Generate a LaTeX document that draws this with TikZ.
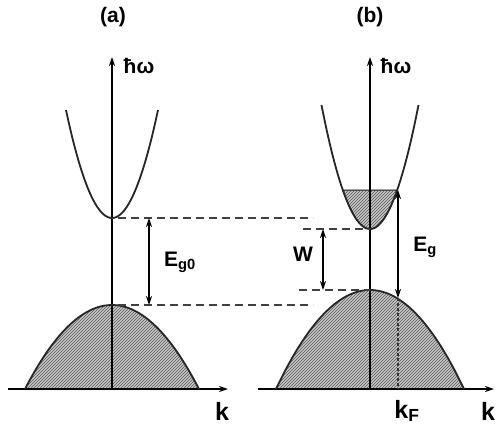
\documentclass[tikz,border=0pt]{standalone}
\usepackage{fontspec}
\setmainfont{Liberation Sans}
\usetikzlibrary{arrows.meta, patterns}

\begin{document}
\begin{tikzpicture}[x=1pt, y=-1pt,
    band/.style={line width=1.8pt, black!85},
    hatch/.style={fill=gray!45, postaction={pattern=north east lines, pattern color=black!65}},
    axis/.style={line width=1.3pt, -{Stealth[length=9pt, width=6pt]}},
    level/.style={dash pattern=on 8pt off 5pt, line width=1.3pt, black!75},
    kfline/.style={dash pattern=on 3pt off 2pt, line width=1.1pt, black!80},
    gap/.style={line width=1.2pt, {Stealth[length=9pt, width=6pt]}-{Stealth[length=9pt, width=6pt]}},
    lbl/.style={font=\fontsize{21}{25}\selectfont\bfseries, inner sep=0pt},
    klbl/.style={font=\fontsize{25}{28}\selectfont\bfseries, inner sep=0pt}
  ]
  \useasboundingbox (0,0) rectangle (496,434);

  % --- (a) ---
  \node[lbl] (titlea) at (113,17) {(a)};
  \fill[hatch] plot[domain=-87:87, samples=60] ({112+\x},{305+84*(\x/87)^2}) -- cycle;
  \coordinate (oa) at (112,389);
  \coordinate (xla) at (8,389);
  \coordinate (xra) at (228,389);
  \coordinate (topa) at (112,57);
  \draw[axis] (xla) -- (xra);
  \draw[axis] (oa) -- (topa);
  \node[lbl] (hwa) at (139,66) {ħω};
  \node[klbl] (ka) at (222,411) {k};
  \draw[band] plot[domain=-87:87, samples=60] ({112+\x},{305+84*(\x/87)^2});
  \draw[band] plot[domain=-46:46, samples=60] ({112+\x},{218-108*(\x/46)^2});

  % niveaux
  \coordinate (cba) at (118,218);
  \coordinate (vba) at (118,305);
  \coordinate (cbe) at (313,218);
  \coordinate (vbe) at (313,305);
  \draw[level] (cba) -- (cbe);
  \draw[level] (vba) -- (vbe);
  \coordinate (ga1) at (149,218);
  \coordinate (ga2) at (149,305);
  \draw[gap] (ga1) -- (ga2);
  \node[lbl] (ega) at (180,262) {E\textsubscript{g0}};

  % --- (b) ---
  \node[lbl] (titleb) at (370,17) {(b)};
  \fill[hatch] plot[domain=-94:94, samples=60] ({370+\x},{290+99*(\x/94)^2}) -- cycle;
  \filldraw[hatch, line width=1pt] plot[domain=-27.2:27.2, samples=40] ({370+\x},{229-124*(\x/48.5)^2}) -- cycle;
  \coordinate (ob) at (370,389);
  \coordinate (xlb) at (258,389);
  \coordinate (xrb) at (494,389);
  \coordinate (topb) at (370,57);
  \draw[axis] (xlb) -- (xrb);
  \draw[axis] (ob) -- (topb);
  \node[lbl] (hwb) at (396,66) {ħω};
  \node[klbl] (kb) at (488,411) {k};
  \draw[band] plot[domain=-94:94, samples=60] ({370+\x},{290+99*(\x/94)^2});
  \draw[band] plot[domain=-48.5:48.5, samples=60] ({370+\x},{229-124*(\x/48.5)^2});

  % niveaux
  \coordinate (cbb) at (370,229);
  \coordinate (vbb) at (370,290);
  \coordinate (cbw) at (303,229);
  \coordinate (vbw) at (299,290);
  \draw[level] (cbw) -- (cbb);
  \draw[level] (vbw) -- (vbb);
  \coordinate (w1) at (323,229);
  \coordinate (w2) at (323,290);
  \draw[gap] (w1) -- (w2);
  \node[lbl] (wl) at (303,254) {W};

  % transition a k_F
  \coordinate (fermi) at (398,190);
  \coordinate (vkf) at (398,298);
  \coordinate (kfo) at (398,389);
  \draw[gap] (fermi) -- (vkf);
  \draw[kfline] (vkf) -- (kfo);
  \node[lbl] (egb) at (425,247) {E\textsubscript{g}};
  \node[klbl] (kf) at (407,411) {k\textsubscript{F}};
\end{tikzpicture}
\end{document}
